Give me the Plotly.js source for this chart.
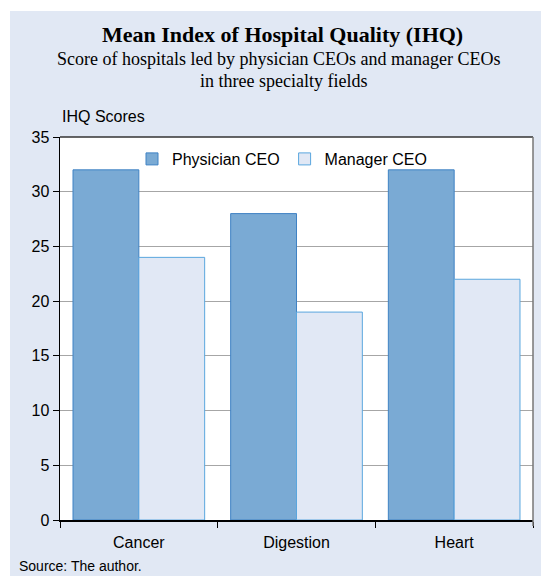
<!DOCTYPE html>
<html>
<head>
<meta charset="utf-8">
<script src="https://cdn.plot.ly/plotly-3.0.1.min.js"></script>
<style>html,body{margin:0;padding:0;background:#fff;}#chart{width:541px;height:576px;}</style>
</head>
<body>
<div id="chart"></div>
<script>
const categories = ["Cancer", "Digestion", "Heart"];
const physicianCEO = [32, 28, 32];
const managerCEO = [24, 19, 22];
const seriesNames = ["Physician CEO", "Manager CEO"];
const yTicks = [0, 5, 10, 15, 20, 25, 30, 35];

const W = 541, H = 576, L = 60, R = 8, T = 137, B = 56;
const pw = W - L - R, ph = H - T - B;
const px = x => (x - L) / pw;
const py = y => (H - B - y) / ph;

const panel = '#E1E8F4';
const traces = [
  {type: 'bar', name: seriesNames[0], x: categories, y: physicianCEO,
   marker: {color: '#7AAAD4', line: {color: '#3F82C4', width: 1}}},
  {type: 'bar', name: seriesNames[1], x: categories, y: managerCEO,
   marker: {color: '#E1E8F5', line: {color: '#5AA6DE', width: 1}}}
];

const layout = {
  width: W, height: H,
  margin: {l: L, r: R, t: T, b: B, pad: 0},
  paper_bgcolor: panel,
  plot_bgcolor: '#FFFFFF',
  barmode: 'group', bargap: 0.165, bargroupgap: 0,
  font: {family: '"Liberation Sans", Arial, sans-serif', size: 16, color: '#000'},
  showlegend: true,
  legend: {orientation: 'h', x: px(282), xanchor: 'center', y: py(142), yanchor: 'top',
           bgcolor: 'rgba(0,0,0,0)', font: {size: 16}, traceorder: 'normal'},
  xaxis: {type: 'category', showline: true, linecolor: '#000', linewidth: 1.5,
          ticks: 'outside', tickson: 'boundaries', ticklen: 6, tickcolor: '#000',
          ticklabelstandoff: 7,
          showgrid: false, fixedrange: true, tickfont: {size: 16}},
  yaxis: {range: [0, 35], tickvals: yTicks, ticktext: yTicks.map(String),
          showline: true, linecolor: '#000', linewidth: 1.5,
          ticks: 'outside', ticklen: 6, tickcolor: '#000',
          showgrid: true, gridcolor: '#A6A6A6', gridwidth: 1, zeroline: false,
          tickfont: {size: 16}, fixedrange: true},
  shapes: [
    {type: 'rect', xref: 'paper', yref: 'paper', x0: px(0), x1: px(W), y0: py(0), y1: py(11),
     fillcolor: '#fff', line: {width: 0}, layer: 'below'},
    {type: 'rect', xref: 'paper', yref: 'paper', x0: px(0), x1: px(10), y0: py(0), y1: py(H),
     fillcolor: '#fff', line: {width: 0}, layer: 'below'},
    {type: 'line', xref: 'paper', yref: 'paper', x0: 0, x1: 1, y0: 1, y1: 1,
     line: {color: '#333', width: 1.5}},
    {type: 'line', xref: 'paper', yref: 'paper', x0: 1, x1: 1, y0: py(526), y1: 1,
     line: {color: '#777', width: 1.5}}
  ],
  annotations: [
    {xref: 'paper', yref: 'paper', x: px(282), y: py(34), xanchor: 'center', yanchor: 'middle',
     text: '<b>Mean Index of Hospital Quality (IHQ)</b>', showarrow: false,
     font: {family: '"Liberation Serif", "Times New Roman", serif', size: 22, color: '#000'}},
    {xref: 'paper', yref: 'paper', x: px(278), y: py(59), xanchor: 'center', yanchor: 'middle',
     text: 'Score of hospitals led by physician CEOs and manager CEOs', showarrow: false,
     font: {family: '"Liberation Serif", "Times New Roman", serif', size: 18, color: '#000'}},
    {xref: 'paper', yref: 'paper', x: px(283), y: py(81), xanchor: 'center', yanchor: 'middle',
     text: 'in three specialty fields', showarrow: false,
     font: {family: '"Liberation Serif", "Times New Roman", serif', size: 18, color: '#000'}},
    {xref: 'paper', yref: 'paper', x: px(60), y: py(117), xanchor: 'left', yanchor: 'middle',
     text: 'IHQ Scores', showarrow: false, font: {size: 16, color: '#000'}},
    {xref: 'paper', yref: 'paper', x: px(17), y: py(566), xanchor: 'left', yanchor: 'middle',
     text: 'Source: The author.', showarrow: false, font: {size: 14, color: '#000'}}
  ]
};

Plotly.newPlot('chart', traces, layout, {displayModeBar: false, staticPlot: true});
</script>
</body>
</html>
